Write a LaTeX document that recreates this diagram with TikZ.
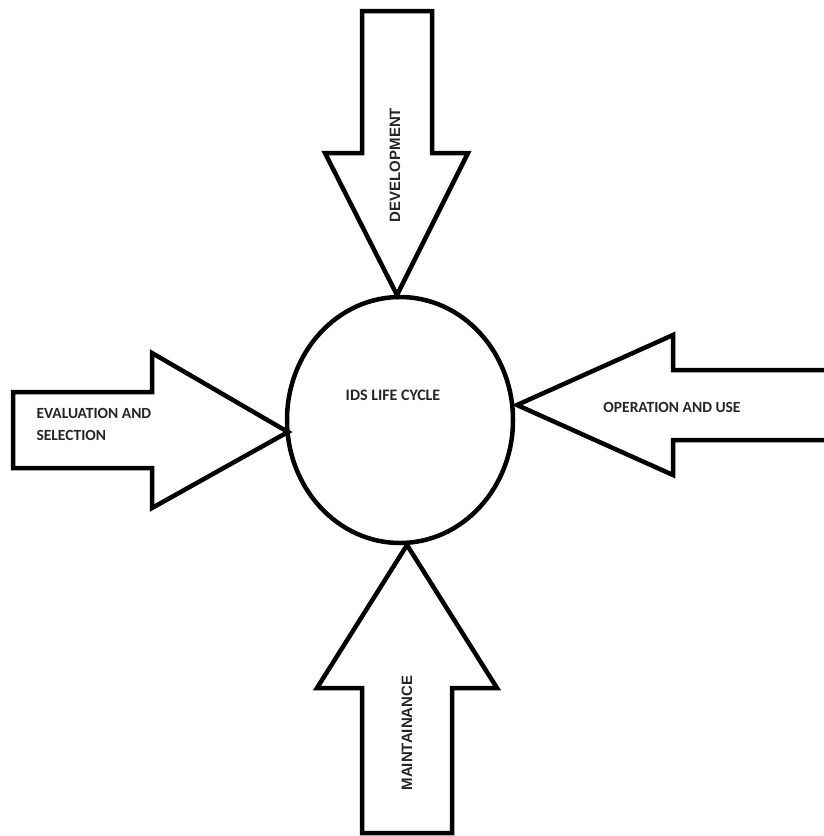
\documentclass[tikz,border=0pt]{standalone}
\usepackage{fontspec}
\setmainfont{Carlito}
\newfontfamily\labelfont{Liberation Sans}
\usetikzlibrary{shapes.geometric}
\begin{document}
\begin{tikzpicture}[x=1pt,y=-1pt,
  outline/.style={draw=black,line width=4.5pt,line join=miter,fill=white},
  hubtext/.style={font=\fontsize{16}{19}\selectfont\bfseries,text=black!85},
  sidetext/.style={font=\fontsize{15.5}{22}\selectfont\bfseries,text=black!85,align=left},
  vtext/.style={font=\labelfont\fontsize{15}{18}\selectfont\bfseries,text=black!85}]
  \useasboundingbox (0,0) rectangle (824,836);
  \fill[white] (0,0) rectangle (824,836);

  % central hub
  \node[ellipse,draw=black,line width=4.5pt,minimum width=226pt,minimum height=246pt] (hub) at (400,420) {};
  \node[hubtext] (hubl) at (393,395) {IDS LIFE CYCLE};

  % top arrow (pointing down)
  \draw[outline] (362,11) -- (432,11) -- (432,153) -- (468,153) -- (397,295)
    -- (325,153) -- (362,153) -- cycle;
  \node[vtext,rotate=90] (dev) at (395,165) {DEVELOPMENT};

  % bottom arrow (pointing up)
  \draw[outline] (362,833) -- (452,833) -- (452,688) -- (497,688) -- (407,545)
    -- (317,688) -- (362,688) -- cycle;
  \node[vtext,rotate=90] (mnt) at (407,733) {MAINTAINANCE};

  % left arrow (pointing right)
  \draw[outline] (13,392) -- (152,392) -- (152,353) -- (288,432) -- (152,508)
    -- (152,468) -- (13,468) -- cycle;
  \node[sidetext,anchor=west] (evl) at (33,424) {EVALUATION AND\\SELECTION};

  % right arrow (pointing left), running off the right edge
  \draw[outline] (830,370) -- (673,370) -- (673,335) -- (517,405) -- (673,475)
    -- (673,440) -- (830,440);
  \node[sidetext] (opr) at (672,407) {OPERATION AND USE};
\end{tikzpicture}
\end{document}
